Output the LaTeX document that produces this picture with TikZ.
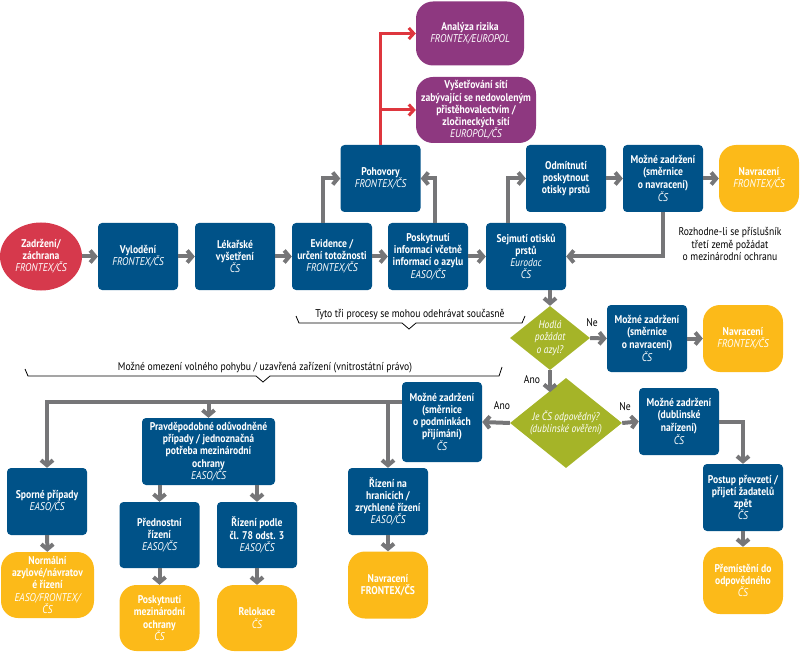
\documentclass[tikz,border=0pt]{standalone}
\usepackage{fontspec}
\setmainfont{PT Sans}[FakeStretch=0.86]
\usetikzlibrary{shapes.geometric,arrows.meta}
\definecolor{eublue}{RGB}{0,82,136}
\definecolor{euyellow}{RGB}{252,186,25}
\definecolor{eupurple}{RGB}{142,56,128}
\definecolor{eured}{RGB}{214,57,76}
\definecolor{eugreen}{RGB}{165,180,40}
\definecolor{arrgray}{RGB}{118,118,120}
\definecolor{redline}{RGB}{222,54,62}
\newcommand{\agency}[1]{{\mdseries\itshape #1}}
\tikzstyle{proc}=[rectangle, rounded corners=4pt, fill=eublue, text=white, font=\fontsize{11.2}{12.2}\selectfont\bfseries, align=center, minimum width=80pt, minimum height=67pt, inner sep=1pt]
\tikzstyle{goal}=[proc, fill=euyellow, rounded corners=17pt]
\tikzstyle{crime}=[proc, fill=eupurple, rounded corners=17pt]
\tikzstyle{catch}=[ellipse, fill=eured, text=white, font=\fontsize{11.2}{12.2}\selectfont\bfseries, align=center, minimum width=82pt, minimum height=68pt, inner sep=0pt]
\tikzstyle{query}=[diamond, aspect=1.25, fill=eugreen, text=white, font=\fontsize{11}{12.2}\selectfont\itshape, align=center, inner sep=0pt]
\tikzstyle{flow}=[draw=arrgray, line width=4pt, -{Straight Barb[length=5pt,width=12pt]}]
\tikzstyle{redflow}=[draw=redline, line width=3pt, -{Straight Barb[length=5pt,width=11pt]}]
\tikzstyle{note}=[font=\fontsize{11.2}{12.5}\selectfont, align=center]

\begin{document}
\begin{tikzpicture}[x=1pt,y=-1pt]
\useasboundingbox (0,0) rectangle (800,652);
\draw (41,256.5) node[catch] (zach) {Zadržení/\\záchrana\\\agency{FRONTEX/ČS}};
\draw (138,256.5) node[proc] (vylodeni) {Vylodění\\\agency{FRONTEX/ČS}};
\draw (235,256.5) node[proc] (lekar) {Lékařské\\vyšetření\\\agency{ČS}};
\draw (332,256.5) node[proc] (evid) {Evidence /\\určení totožnosti\\\agency{FRONTEX/ČS}};
\draw (428,256.5) node[proc] (poskyt) {Poskytnutí\\informací včetně\\informací o azylu\\\agency{EASO/ČS}};
\draw (526,256.5) node[proc] (sejm) {Sejmutí otisků\\prstů\\\agency{Eurodac}\\\agency{ČS}};
\draw (380.5,178.5) node[proc] (pohov) {Pohovory\\\agency{FRONTEX/ČS}};
\draw (470,33.5) node[crime, minimum width=108pt, minimum height=64pt] (analyza) {Analýza rizika\\\agency{FRONTEX/EUROPOL}};
\draw (476,110) node[crime, minimum width=120pt, minimum height=66pt] (vysetr) {Vyšetřování sítí\\zabývající se nedovoleným\\přistěhovalectvím /\\zločineckých sítí\\\agency{EUROPOL/ČS}};
\draw (566,178.5) node[proc] (odmit) {Odmítnutí\\poskytnout\\otisky prstů};
\draw (663,178.5) node[proc] (zadrz1) {Možné zadržení\\(směrnice\\o navracení)\\\agency{ČS}};
\draw (759,178.5) node[goal] (navr1) {Navracení\\\agency{FRONTEX/ČS}};
\draw (730,244) node[note] (rozh) {Rozhodne-li se příslušník\\třetí země požádat\\o mezinárodní ochranu};

\draw (410,315) node[note] (soucasne) {Tyto tři procesy se mohou odehrávat současně};
\draw[line width=0.8pt] (296,316) -- (299,323) -- (402,323) -- (409,329) -- (416,323) -- (522,323) -- (525,316);

\draw (550,338) node[query, minimum width=80pt, minimum height=64pt] (hodla) {Hodlá\\požádat\\o azyl?};
\draw (647,338.5) node[proc] (zadrz2) {Možné zadržení\\(směrnice\\o navracení)\\\agency{ČS}};
\draw (743,338.5) node[goal] (navr2) {Navracení\\\agency{FRONTEX/ČS}};

\draw (265,368) node[note] (omezeni) {Možné omezení volného pohybu / uzavřená zařízení (vnitrostátní právo)};
\draw[line width=0.8pt] (25,369) -- (28,376) -- (256,376) -- (263,382) -- (270,376) -- (499,376) -- (502,367);

\draw (566,423) node[query, minimum width=112pt, minimum height=90pt] (odpov) {Je ČS odpovědný?\\(dublinské ověření)};
\draw (442,422) node[proc, minimum height=80pt] (zadrz3) {Možné zadržení\\(směrnice\\o podmínkách\\přijímání)\\\agency{ČS}};
\draw (679,421.5) node[proc] (zadrz4) {Možné zadržení\\(dublinské\\nařízení)\\\agency{ČS}};
\draw (743,497.5) node[proc] (postup) {Postup převzetí /\\přijetí žadatelů\\zpět\\\agency{ČS}};
\draw (743,580.5) node[goal] (premist) {Přemístění do\\odpovědného\\\agency{ČS}};

\draw (47,501.5) node[proc] (sporne) {Sporné případy\\\agency{EASO/ČS}};
\draw (47.5,585) node[goal, minimum width=93pt, minimum height=66pt] (normal) {Normální\\azylové/návratov\\é řízení\\\agency{EASO/FRONTEX/}\\\agency{ČS}};
\draw (208.5,451.5) node[proc, minimum width=133pt] (pravd) {Pravděpodobné odůvodněné\\případy / jednoznačná\\potřeba mezinárodní\\ochrany\\\agency{EASO/ČS}};
\draw (159.5,535) node[proc, minimum height=66pt] (predn) {Přednostní\\řízení\\\agency{EASO/ČS}};
\draw (257,535) node[proc, minimum height=66pt] (rizeni78) {Řízení podle\\čl. 78 odst. 3\\\agency{EASO/ČS}};
\draw (159.5,618) node[goal, minimum height=66pt] (poskmo) {Poskytnutí\\mezinárodní\\ochrany\\\agency{ČS}};
\draw (257,618) node[goal, minimum height=66pt] (reloc) {Relokace\\\agency{ČS}};
\draw (388,501.5) node[proc] (hranic) {Řízení na\\hranicích /\\zrychlené řízení\\\agency{EASO/ČS}};
\draw (388,585) node[goal] (navr3) {Navracení\\FRONTEX/ČS};

\draw (592,323) node[note] (ne1) {Ne};
\draw (532,380) node[note] (ano1) {Ano};
\draw (502,406) node[note] (ano2) {Ano};
\draw (625,407) node[note] (ne2) {Ne};

\draw[flow] (zach.east) -- (vylodeni.west);
\draw[flow] (vylodeni) -- (lekar);
\draw[flow] (lekar) -- (evid);
\draw[flow] (evid) -- (poskyt);
\draw[flow] (poskyt) -- (sejm);
\draw[flow] ([xshift=-9pt]evid.north) |- (pohov.west);
\draw[flow] ([xshift=7pt]poskyt.north) |- (pohov.east);
\draw[flow] ([xshift=-18pt]sejm.north) |- (odmit.west);
\draw[flow] (odmit) -- (zadrz1);
\draw[flow] (zadrz1) -- (navr1);
\draw[flow] (zadrz1.south) |- (sejm.east);
\draw[redflow] (pohov.north) |- (analyza.west);
\draw[redflow] (pohov.north |- vysetr.west) -- (vysetr.west);
\draw[flow] (sejm.south -| hodla.north) -- (hodla.north);
\draw[flow] (hodla.east) -- (zadrz2.west);
\draw[flow] (zadrz2) -- (navr2);
\draw[flow] (hodla.south) -- (hodla.south |- odpov.120);
\draw[flow] (odpov.west) -- (zadrz3.east);
\draw[flow] (odpov.east) -- (zadrz4.west);
\draw[flow] (zadrz4.east) -| (postup.north);
\draw[flow] (postup) -- (premist);
\coordinate (split) at ([yshift=20pt]zadrz3.west);
\draw[flow] (split) -| (sporne.north);
\draw[flow] (split -| pravd.north) -- (pravd.north);
\draw[flow] (split -| hranic.north) -- (hranic.north);
\draw[flow] (sporne) -- (normal);
\draw[flow] (pravd.south -| predn.north) -- (predn.north);
\draw[flow] (pravd.south -| rizeni78.north) -- (rizeni78.north);
\draw[flow] (predn) -- (poskmo);
\draw[flow] (rizeni78) -- (reloc);
\draw[flow] (hranic) -- (navr3);
\end{tikzpicture}
\end{document}
